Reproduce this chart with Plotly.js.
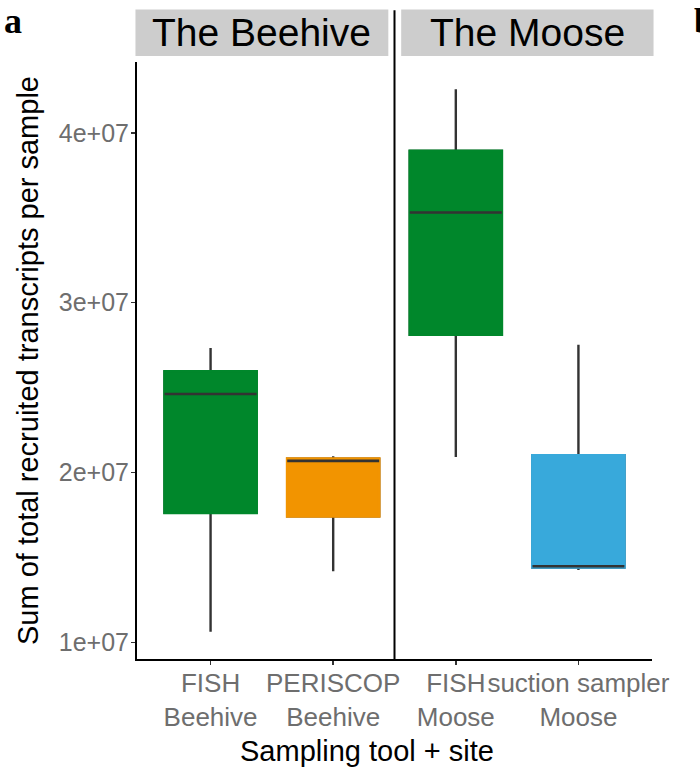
<!DOCTYPE html>
<html><head><meta charset="utf-8">
<script src="https://cdn.plot.ly/plotly-3.0.1.min.js"></script>
<style>html,body{margin:0;padding:0;background:#fff}</style>
</head><body><div id="chart" style="width:700px;height:771px"></div>
<script>
// ---- data ----
const categories = ['FISH Beehive', 'PERISCOP Beehive', 'FISH Moose', 'suction sampler Moose'];
const tickLabels = ['FISH<br>Beehive', 'PERISCOP<br>Beehive', 'FISH<br>Moose', 'suction sampler<br>Moose'];
const sites = ['The Beehive', 'The Moose'];
const lowerWhisker = [1.063e7, 1.419e7, 2.092e7, 1.427e7];
const q1 = [1.763e7, 1.743e7, 2.812e7, 1.442e7];
const median = [2.463e7, 2.069e7, 3.531e7, 1.449e7];
const q3 = [2.596e7, 2.082e7, 3.894e7, 2.102e7];
const upperWhisker = [2.733e7, 2.096e7, 4.257e7, 2.753e7];
const boxColors = ['#00872B', '#F29400', '#00872B', '#38A9DB'];
const yTickVals = [1e7, 2e7, 3e7, 4e7];
const yTickText = ['1e+07', '2e+07', '3e+07', '4e+07'];

const FONT = 'Liberation Sans, Arial, Helvetica, sans-serif';
const DARK = '#333333';
const BOXW = 0.75;

const traces = [];
// layer 1: whiskers (dark)
traces.push({
  type: 'box', x: categories, q1: q1, median: median, q3: q3,
  lowerfence: lowerWhisker, upperfence: upperWhisker,
  width: BOXW, whiskerwidth: 0, boxpoints: false,
  line: {color: DARK, width: 2.4}, fillcolor: 'rgba(0,0,0,0)',
  hoverinfo: 'skip', showlegend: false
});
// layer 2: coloured boxes (outline in fill colour)
categories.forEach((c, i) => {
  traces.push({
    type: 'box', x: [c], q1: [q1[i]], median: [median[i]], q3: [q3[i]],
    lowerfence: [q1[i]], upperfence: [q3[i]],
    width: BOXW, whiskerwidth: 0, boxpoints: false,
    line: {color: boxColors[i], width: 2.8}, fillcolor: boxColors[i],
    hoverinfo: 'skip', showlegend: false
  });
});
// layer 3: median lines (dark)
traces.push({
  type: 'box', x: categories, q1: median, median: median, q3: median,
  lowerfence: median, upperfence: median,
  width: BOXW, whiskerwidth: 0, boxpoints: false,
  line: {color: DARK, width: 2.6}, fillcolor: 'rgba(0,0,0,0)',
  hoverinfo: 'skip', showlegend: false
});

const stripY0 = 1.010, stripY1 = 1.088;
const strips = [[-0.003, 0.488], [0.513, 1.003]];

const shapes = strips.map(s => ({
  type: 'rect', xref: 'paper', yref: 'paper', x0: s[0], x1: s[1], y0: stripY0, y1: stripY1,
  fillcolor: '#CDCDCD', line: {width: 0}, layer: 'below'
}));
shapes.push({
  type: 'line', xref: 'x', yref: 'paper', x0: 1.5, x1: 1.5, y0: 0, y1: 1.0865,
  line: {color: '#000', width: 2}
});

const annotations = sites.map((s, i) => ({
  text: s, xref: 'paper', yref: 'paper', x: (strips[i][0] + strips[i][1]) / 2, y: (stripY0 + stripY1) / 2,
  xanchor: 'center', yanchor: 'middle', showarrow: false,
  font: {family: FONT, size: 39, color: '#000'}
}));
annotations.push({
  text: 'Sampling tool + site', xref: 'paper', yref: 'paper', x: 0.446, y: -0.1547,
  xanchor: 'center', yanchor: 'middle', showarrow: false,
  font: {family: FONT, size: 29, color: '#000'}
});
annotations.push({
  text: '<b>a</b>', xref: 'paper', yref: 'paper', x: -0.262, y: 1.069,
  xanchor: 'left', yanchor: 'middle', showarrow: false,
  font: {family: 'Liberation Serif, Times New Roman, serif', size: 36, color: '#000'}
});
annotations.push({
  text: '<b>b</b>', xref: 'paper', yref: 'paper', x: 1.078, y: 1.069,
  xanchor: 'left', yanchor: 'middle', showarrow: false,
  font: {family: 'Liberation Serif, Times New Roman, serif', size: 36, color: '#000'}
});

const layout = {
  width: 700, height: 771,
  margin: {l: 137, r: 48, t: 62, b: 112, pad: 0},
  paper_bgcolor: '#fff', plot_bgcolor: '#fff',
  boxmode: 'overlay', showlegend: false,
  font: {family: FONT},
  xaxis: {
    type: 'category', categoryorder: 'array', categoryarray: categories,
    tickvals: categories, ticktext: tickLabels, tickangle: 0,
    range: [-0.6, 3.6], showgrid: false, zeroline: false,
    showline: true, linecolor: '#000', linewidth: 2,
    ticks: 'outside', ticklen: 4, tickwidth: 1.5, tickcolor: DARK,
    tickfont: {family: FONT, size: 26, color: '#6E6E6E'},
    ticklabelstandoff: -4,
    automargin: false, fixedrange: true
  },
  yaxis: {
    range: [0.903e7, 4.417e7], tickvals: yTickVals, ticktext: yTickText,
    showgrid: false, zeroline: false,
    showline: true, linecolor: '#000', linewidth: 2,
    ticks: 'outside', ticklen: 4, tickwidth: 1.5, tickcolor: DARK,
    tickfont: {family: FONT, size: 25, color: '#6E6E6E'},
    ticklabelstandoff: -3,
    title: {text: 'Sum of total recruited transcripts per sample', font: {family: FONT, size: 29, color: '#000'}, standoff: 12},
    automargin: false, fixedrange: true
  },
  shapes: shapes,
  annotations: annotations
};

Plotly.newPlot('chart', traces, layout, {displayModeBar: false, staticPlot: true});
</script>
</body></html>
